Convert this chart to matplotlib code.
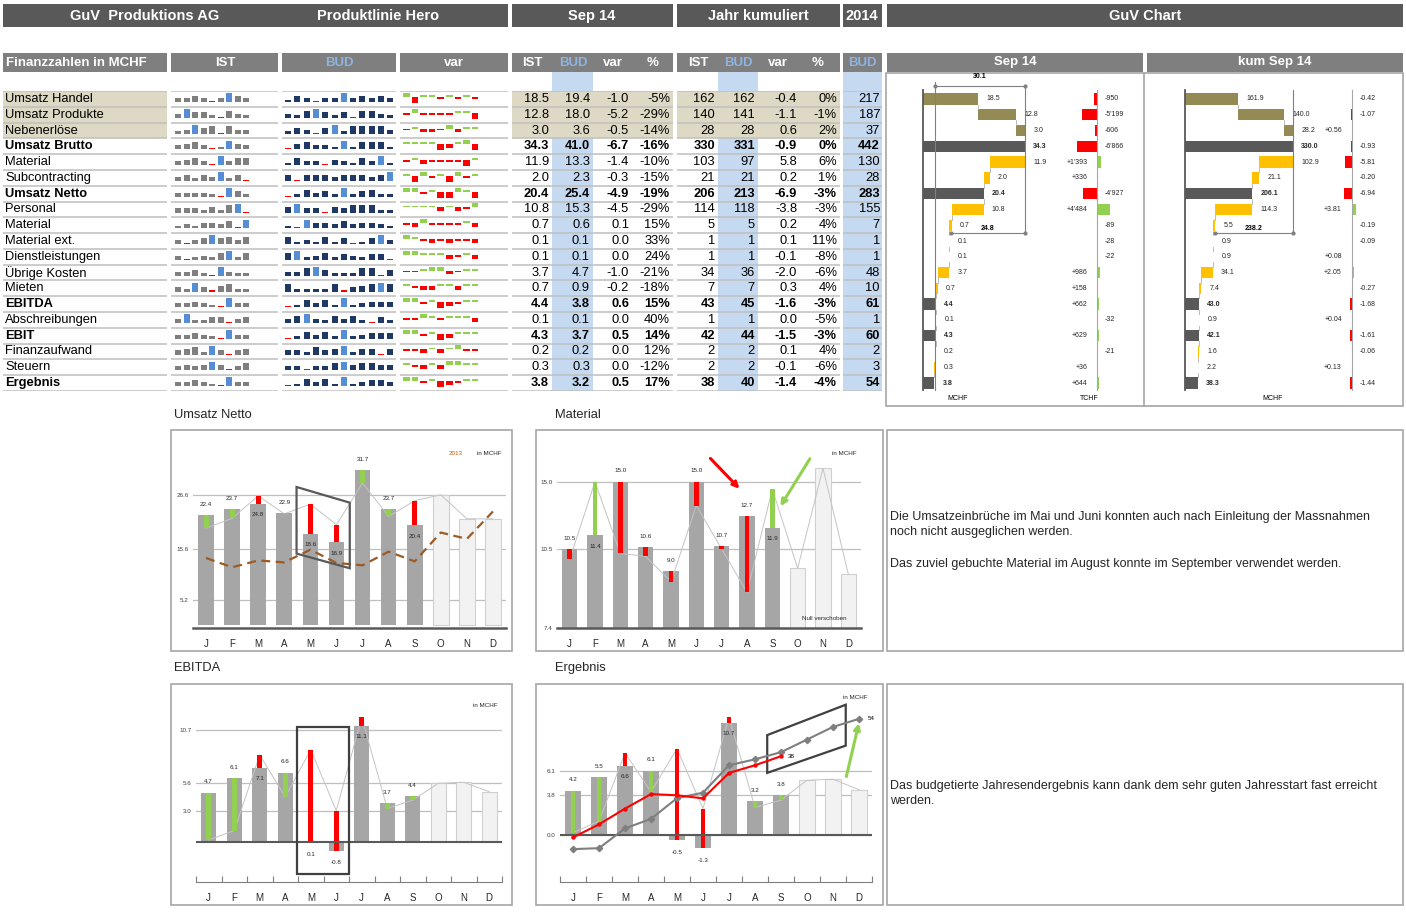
import numpy as np
import matplotlib
matplotlib.use("Agg")
from matplotlib import pyplot as plt
from matplotlib.patches import Rectangle, Polygon

plt.rcParams['font.family'] = ['Liberation Sans', 'DejaVu Sans']

W, H = 1406, 913

# ---------------- table data ----------------
rows = ["Umsatz Handel", "Umsatz Produkte", "Nebenerlöse", "Umsatz Brutto", "Material",
        "Subcontracting", "Umsatz Netto", "Personal", "Material", "Material ext.",
        "Dienstleistungen", "Übrige Kosten", "Mieten", "EBITDA", "Abschreibungen",
        "EBIT", "Finanzaufwand", "Steuern", "Ergebnis"]
bold_rows = ["Umsatz Brutto", "Umsatz Netto", "EBITDA", "EBIT", "Ergebnis"]
row_kind = ["a", "a", "a", "t", "c", "c", "t", "c", "c", "c", "c", "c", "c", "t", "c", "t", "c", "c", "t"]

sep_ist = [18.5, 12.8, 3.0, 34.3, 11.9, 2.0, 20.4, 10.8, 0.7, 0.1, 0.1, 3.7, 0.7, 4.4, 0.1, 4.3, 0.2, 0.3, 3.8]
sep_bud = [19.4, 18.0, 3.6, 41.0, 13.3, 2.3, 25.4, 15.3, 0.6, 0.1, 0.1, 4.7, 0.9, 3.8, 0.1, 3.7, 0.2, 0.3, 3.2]
sep_var = [-1.0, -5.2, -0.5, -6.7, -1.4, -0.3, -4.9, -4.5, 0.1, 0.0, 0.0, -1.0, -0.2, 0.6, 0.0, 0.5, 0.0, 0.0, 0.5]
sep_pct = ["-5%", "-29%", "-14%", "-16%", "-10%", "-15%", "-19%", "-29%", "15%", "33%", "24%",
           "-21%", "-18%", "15%", "40%", "14%", "12%", "-12%", "17%"]
kum_ist = [162, 140, 28, 330, 103, 21, 206, 114, 5, 1, 1, 34, 7, 43, 1, 42, 2, 2, 38]
kum_bud = [162, 141, 28, 331, 97, 21, 213, 118, 5, 1, 1, 36, 7, 45, 1, 44, 2, 2, 40]
kum_var = [-0.4, -1.1, 0.6, -0.9, 5.8, 0.2, -6.9, -3.8, 0.2, 0.1, -0.1, -2.0, 0.3, -1.6, 0.0, -1.5, 0.1, -0.1, -1.4]
kum_pct = ["0%", "-1%", "2%", "0%", "6%", "1%", "-3%", "-3%", "4%", "11%", "-8%",
           "-6%", "4%", "-3%", "-5%", "-3%", "4%", "-6%", "-4%"]
bud_2014 = [217, 187, 37, 442, 130, 28, 283, 155, 7, 1, 1, 48, 10, 61, 1, 60, 2, 3, 54]

# sparkline levels (IST Jan-Sep, BUD Jan-Dec, var Jan-Sep)
spark_ist = [
    [2, 2, 3, 2, 0, 2, 5, 3, 2], [2, 5, 3, 3, 1, 0, 4, 2, 1], [1, 2, 5, 3, 4, 0, 4, 2, 2],
    [2, 3, 4, 2, 0, 1, 5, 3, 2], [2, 3, 4, 2, 0, 5, 2, 4, 4], [2, 3, 1, 3, 2, 5, 1, 3, 0],
    [2, 2, 2, 2, 1, 0, 5, 3, 1], [2, 2, 2, 1, 3, 1, 4, 5, 0], [1, 2, 1, 3, 3, 2, 4, 0, 5],
    [2, 0, 2, 3, 5, 3, 4, 2, 4], [2, 0, 1, 2, 1, 4, 5, 1, 4], [2, 2, 3, 1, 0, 5, 2, 1, 1],
    [2, 1, 5, 2, 0, 3, 4, 1, 1], [2, 2, 3, 2, 1, 0, 5, 2, 2], [2, 5, 1, 1, 3, 3, 0, 2, 3],
    [2, 2, 3, 2, 1, 0, 5, 2, 2], [2, 3, 4, 1, 5, 2, 0, 2, 3], [2, 3, 2, 3, 5, 3, 0, 2, 4],
    [2, 2, 3, 2, 1, 0, 5, 2, 2]]
spark_bud = [
    [1, 3, 2, 0, 2, 2, 5, 2, 3, 2, 3, 2], [2, 1, 4, 5, 3, 1, 3, 0, 4, 4, 2, 1],
    [1, 3, 2, 0, 3, 5, 1, 4, 4, 4, 4, 2], [0, 3, 4, 2, 2, 1, 5, 1, 4, 4, 4, 1],
    [1, 4, 2, 2, 0, 3, 2, 1, 4, 2, 5, 1], [3, 0, 3, 3, 3, 2, 3, 3, 3, 2, 3, 5],
    [0, 1, 4, 2, 3, 1, 5, 1, 3, 4, 1, 1], [3, 5, 2, 2, 0, 3, 2, 4, 4, 4, 1, 1],
    [1, 0, 5, 3, 3, 2, 4, 2, 3, 3, 2, 1], [4, 1, 2, 1, 4, 1, 3, 0, 1, 3, 5, 2],
    [4, 5, 1, 2, 4, 1, 3, 2, 1, 3, 3, 0], [2, 2, 4, 5, 3, 1, 1, 1, 4, 4, 0, 3],
    [4, 1, 1, 1, 1, 4, 0, 2, 3, 4, 5, 4], [0, 1, 4, 2, 4, 1, 5, 1, 2, 3, 3, 3],
    [2, 4, 5, 2, 1, 4, 2, 4, 1, 0, 3, 1], [0, 1, 4, 2, 4, 1, 5, 1, 2, 3, 3, 3],
    [2, 2, 1, 4, 2, 3, 5, 1, 3, 3, 0, 3], [2, 2, 0, 2, 2, 4, 5, 3, 4, 4, 3, 3],
    [0, 1, 4, 2, 4, 1, 5, 1, 2, 3, 3, 2]]
spark_var = [
    [2, -3, 1, 1, -1, 1, -1, 1, -1], [-1, 2, -1, -1, -1, -1, 1, 1, -3], [-1, 1, -2, -2, -1, 2, -2, 1, 1],
    [1, 1, 1, 1, -3, -2, 1, 2, -3], [-1, 1, -2, -1, -1, -1, -1, -3, 1], [1, -3, 2, -1, 1, -3, 2, -1, 1],
    [2, 2, -1, 1, -3, -3, 2, 1, -3], [1, 1, 1, 1, -2, 1, -2, -1, 2], [-1, -2, 2, -1, -1, -1, -1, 1, -2],
    [2, 1, -1, -2, -1, -2, -1, -1, -2], [2, 2, 1, 1, 1, -2, -1, 1, -2], [-1, -1, 1, 2, 2, -2, -1, 1, 1],
    [1, -1, -2, -2, 1, 1, -2, 1, 1], [2, 2, -1, 1, -3, -2, -1, 1, 1], [-1, -1, 2, 1, -1, 1, 1, 1, -2],
    [2, 2, -1, 1, -3, -2, 1, 1, 1], [-1, -1, -2, 1, -2, 1, 2, -1, -1], [1, -1, -2, 1, -2, 2, 2, 1, 1],
    [2, 2, -1, 1, -3, -2, -1, 1, 1]]

# ---------------- GuV chart data ----------------
wf_sep = [18.5, 12.8, 3.0, 34.3, 11.9, 2.0, 20.4, 10.8, 0.7, 0.1, 0.1, 3.7, 0.7, 4.4, 0.1, 4.3, 0.2, 0.3, 3.8]
wf_sep_var = [-950, -5199, -606, -6866, 1393, 336, -4927, 4484, -89, -28, -22, 986, 158, 662, -32, 629, -21, 36, 644]
wf_sep_brackets = [30.1, 24.8]
wf_kum = [161.9, 140.0, 28.2, 330.0, 102.9, 21.1, 206.1, 114.3, 5.5, 0.9, 0.9, 34.1, 7.4, 43.0, 0.9, 42.1, 1.6, 2.2, 38.3]
wf_kum_var = [-0.42, -1.07, 0.56, -0.93, -5.81, -0.20, -6.94, 3.81, -0.19, -0.09, 0.08, 2.05, -0.27, -1.68, 0.04, -1.61, -0.06, 0.13, -1.44]
wf_kum_brackets = [238.2]

# ---------------- monthly charts ----------------
months = ["J", "F", "M", "A", "M", "J", "J", "A", "S", "O", "N", "D"]
netto_ist = [22.4, 23.7, 24.8, 22.9, 18.6, 16.9, 31.7, 23.7, 20.4]
netto_bud = [19.8, 21.8, 26.4, 22.7, 24.7, 20.5, 29.0, 22.2, 25.4, 26.6, 21.7, 21.7]
netto_2013 = [13.7, 11.8, 13.2, 12.8, 15.4, 12.7, 12.2, 15.0, 13.0, 18.9, 17.6, 23.2]
netto_ticks = [5.2, 15.6, 26.6]

mat_ist = [10.5, 11.4, 15.0, 10.6, 9.0, 15.0, 10.7, 12.7, 11.9]
mat_bud = [9.8, 15.0, 10.2, 10.0, 8.3, 13.4, 10.5, 7.6, 14.5, 9.2, 15.9, 8.8]
mat_ticks = [5.2, 10.5, 15.0]
mat_tick_labels = ["7.4", "10.5", "15.0"]

ebitda_ist = [4.7, 6.1, 7.1, 6.6, 0.1, -0.8, 11.1, 3.7, 4.4]
ebitda_bud = [0.2, 1.1, 8.3, 4.3, 8.8, 3.0, 11.9, 3.2, 4.0, 5.6, 5.7, 4.8]
ebitda_ticks = [3.0, 5.6, 10.7]

erg_ist = [4.2, 5.5, 6.6, 6.1, -0.5, -1.3, 10.7, 3.2, 3.8]
erg_bud = [0.2, 1.3, 7.8, 4.1, 8.2, 2.5, 11.2, 2.6, 3.3, 5.2, 5.3, 4.3]
erg_cum_ist = [4.2, 9.7, 16.3, 22.4, 21.9, 20.6, 31.3, 34.5, 38.3]
erg_cum_bud = [-0.7, -0.3, 8.0, 12.0, 20.7, 23.0, 34.5, 37.0, 40.0, 45.3, 50.6, 54.0]
erg_ticks = [0.0, 3.8, 6.1]

comment_1 = ["Die Umsatzeinbrüche im Mai und Juni konnten auch nach Einleitung der Massnahmen",
             "noch nicht ausgeglichen werden.", "",
             "Das zuviel gebuchte Material im August konnte im September verwendet werden."]
comment_2 = ["Das budgetierte Jahresendergebnis kann dank dem sehr guten Jahresstart fast erreicht",
             "werden."]

# ---------------- colours ----------------
HEAD1 = '#595959'
HEAD2 = '#7f7f7f'
BLUE_BG = '#c5d9f1'
BEIGE = '#ddd9c4'
LINE = '#bfbfbf'
RED = '#ff0000'
GREEN = '#92d050'
HILITE = '#558ed5'
wf_colors = {"a": '#948a54', "t": '#595959', "c": '#ffc000'}

ROW0, PITCH = 99, 15.78

fig = plt.figure(figsize=(W / 100, H / 100), dpi=100)


def add_ax(x0, y0, x1, y1, off=True):
    ax = fig.add_axes([x0 / W, 1 - y1 / H, (x1 - x0) / W, (y1 - y0) / H])
    if off:
        ax.set_axis_off()
    return ax


def row_px(r):
    return ROW0 + r * PITCH


# background: headers, bands, boxes (pixel coordinates)
bg = add_ax(0, 0, W, H)
bg.set_xlim(0, W)
bg.set_ylim(H, 0)


def head(x0, x1, y0, y1, color):
    bg.add_patch(Rectangle((x0, y0), x1 - x0, y1 - y0, color=color, lw=0))


for x0, x1 in [(3, 508), (512, 673), (677, 840), (843, 882), (887, 1403)]:
    head(x0, x1, 4, 27, HEAD1)
for txt, xc in [("GuV  Produktions AG", 145), ("Produktlinie Hero", 378), ("Sep 14", 592),
                ("Jahr kumuliert", 758), ("2014", 862), ("GuV Chart", 1145)]:
    bg.text(xc, 16, txt, color='white', fontsize=10.5, fontweight='bold', ha='center', va='center')

for x0, x1 in [(3, 167), (171, 278), (282, 396), (400, 508), (512, 673), (677, 840), (843, 882),
               (887, 1143), (1147, 1403)]:
    head(x0, x1, 53, 72, HEAD2)
hdr2 = [("IST", 225, 'white'), ("BUD", 339, '#8db4e2'), ("var", 454, 'white'),
        ("IST", 532, 'white'), ("BUD", 573, '#8db4e2'), ("var", 613, 'white'), ("%", 653, 'white'),
        ("IST", 698, 'white'), ("BUD", 738, '#8db4e2'), ("var", 778, 'white'), ("%", 818, 'white'),
        ("BUD", 862, '#8db4e2'), ("Sep 14", 1015, 'white'), ("kum Sep 14", 1275, 'white')]
bg.text(6, 62.5, "Finanzzahlen in MCHF", color='white', fontsize=9.5, fontweight='bold', va='center')
for txt, xc, col in hdr2:
    bg.text(xc, 62.5, txt, color=col, fontsize=9.5, fontweight='bold', ha='center', va='center')

# blue BUD columns
for x0, x1 in [(552, 593), (718, 758), (843, 882)]:
    bg.add_patch(Rectangle((x0, 72), x1 - x0, row_px(18.5) - 72, color=BLUE_BG, lw=0))
# beige rows for the first three lines
for x0, x1 in [(3, 167), (512, 673), (677, 840)]:
    bg.add_patch(Rectangle((x0, row_px(-0.5)), x1 - x0, 3 * PITCH, color=BEIGE, lw=0))

# boxes
box_style = dict(fill=False, ec='#a6a6a6', lw=1.2)
for x0, y0, x1, y1 in [(886, 73, 1403, 406), (171, 430, 512, 651), (536, 430, 883, 651),
                       (887, 430, 1403, 651), (171, 684, 512, 905), (536, 684, 883, 905),
                       (887, 684, 1403, 905)]:
    bg.add_patch(Rectangle((x0, y0), x1 - x0, y1 - y0, **box_style))
bg.plot([1144, 1144], [73, 406], color='#a6a6a6', lw=1.2)

# chart titles
for txt, x, y in [("Umsatz Netto", 174, 415), ("Material", 555, 415), ("EBITDA", 174, 668), ("Ergebnis", 555, 668)]:
    bg.text(x, y, txt, fontsize=9.3, color='#262626', va='center')

# comments
for k, line in enumerate(comment_1):
    bg.text(890, 517 + k * 15.5, line, fontsize=9.0, color='#262626', va='center')
for k, line in enumerate(comment_2):
    bg.text(890, 786 + k * 15.5, line, fontsize=9.0, color='#262626', va='center')

# ---------------- table ----------------
tab = add_ax(0, row_px(-0.5), 890, row_px(18.5))
tab.set_xlim(0, 890)
tab.set_ylim(18.5, -0.5)

n = len(rows)
for x0, x1 in [(3, 167), (171, 278), (282, 396), (400, 508), (512, 673), (677, 840), (843, 882)]:
    tab.hlines(np.arange(n + 1) - 0.5, x0, x1, color=LINE, lw=1.1)

num_cols = [(549, sep_ist, "{:.1f}"), (590, sep_bud, "{:.1f}"), (629, sep_var, "{:.1f}"),
            (670, sep_pct, "{}"), (715, kum_ist, "{:d}"), (755, kum_bud, "{:d}"),
            (797, kum_var, "{:.1f}"), (837, kum_pct, "{}"), (880, bud_2014, "{:d}")]

for i, name in enumerate(rows):
    fw = 'bold' if name in bold_rows else 'normal'
    tab.text(5, i, name, fontsize=9.3, fontweight=fw, va='center', color='#000000')
    for xr, col, fmt in num_cols:
        tab.text(xr, i, fmt.format(col[i]), fontsize=9.3, fontweight=fw, ha='right', va='center')


def spark_bars(levels, x0, step, base_color, i):
    lv = np.array(levels)
    cols = [base_color] * len(lv)
    cols[int(lv.argmax())] = HILITE
    cols[int(lv.argmin())] = RED
    xs = x0 + step * np.arange(len(lv))
    tab.bar(xs, -(0.07 + 0.098 * lv), width=6, bottom=i + 0.2, color=cols, align='edge', lw=0)


def spark_var_bars(levels, x0, step, i):
    lv = np.array(levels)
    xs = x0 + step * np.arange(len(lv))
    h = 0.12 + 0.13 * (np.abs(lv) - 1)
    heights = np.where(lv > 0, -h, h)
    cols = [GREEN if v > 0 else RED for v in lv]
    tab.bar(xs, heights, width=6.5, bottom=i - 0.13, color=cols, align='edge', lw=0)


for i in range(n):
    spark_bars(spark_ist[i], 175, 8.5, '#7f7f7f', i)
    spark_bars(spark_bud[i], 285, 9.3, '#1f3864', i)
    spark_var_bars(spark_var[i], 403, 8.6, i)

# ---------------- GuV chart (waterfalls) ----------------
WF_TOP, WF_BOT = -1.5, 19.2


def wf_axes(x0, x1, base_px, px_per_unit):
    ax = add_ax(x0, row_px(WF_TOP), x1, row_px(WF_BOT))
    ax.set_ylim(WF_BOT, WF_TOP)
    ax.set_xlim((x0 - base_px) / px_per_unit, (x1 - base_px) / px_per_unit)
    return ax


def waterfall(ax, vals, fmt, unit_x):
    level = 0.0
    for i, (v, k) in enumerate(zip(vals, row_kind)):
        if k == "a":
            left = level
            level += v
        elif k == "t":
            left = 0.0
            level = v
        else:
            left = level - v
            level -= v
        ax.barh(i, v, left=left, height=0.72, color=wf_colors[k], lw=0)
        ax.annotate(fmt.format(v), (left + v, i), xytext=(6, 0), textcoords='offset points',
                    va='center', fontsize=5, fontweight='bold' if k == "t" else 'normal', color='#262626')
        if i < len(vals) - 1:
            ax.plot([level, level], [i + 0.36, i + 0.64], color='#b0b0b0', lw=0.6)
    ax.plot([0, 0], [-0.6, 18.45], color='#595959', lw=1.3)
    ax.text(unit_x, 0.0, "MCHF", transform=ax.transAxes, fontsize=5, ha='center', va='bottom')


def bracket(ax, start, end, y, label, label_dy):
    ax.plot([start, end], [y, y], color='#808080', lw=0.8, marker='o', ms=2)
    ax.text((start + end) / 2, y + label_dy, label, fontsize=5, fontweight='bold', ha='center', va='center')


def variance(ax, vals, fmt, lab_right, lab_left):
    cols = [GREEN if v > 0 else RED for v in vals]
    ax.barh(range(len(vals)), vals, height=0.72, color=cols, lw=0)
    ax.plot([0, 0], [-0.6, 18.45], color='#a6a6a6', lw=0.8)
    for i, v in enumerate(vals):
        if v < 0:
            ax.text(lab_right, i, fmt(v), fontsize=5, ha='left', va='center', color='#262626')
        else:
            ax.text(lab_left, i, fmt(v), fontsize=5, ha='right', va='center', color='#262626')


def fmt_tchf(v):
    return ("{:+,d}".format(v) if v > 0 else "{:,d}".format(v)).replace(",", "'")


def fmt_mchf(v):
    return "{:+.2f}".format(v)


wf1 = wf_axes(895, 1075, 923, 2.97)
waterfall(wf1, wf_sep, "{:.1f}", 0.35)
brutto_sep = wf_sep[row_kind.index("t")]
ref_line = brutto_sep - wf_sep_brackets[0]
wf1.plot([ref_line, ref_line], [-1.1, 18.45], color='#808080', lw=0.8)
bracket(wf1, ref_line, brutto_sep, -0.85, "{:.1f}".format(wf_sep_brackets[0]), -0.55)
bracket(wf1, brutto_sep - wf_sep_brackets[1], brutto_sep, 8.5, "{:.1f}".format(wf_sep_brackets[1]), -0.3)
wf1.plot([brutto_sep, brutto_sep], [-0.85, 8.5], color='#808080', lw=0.8)

wf1v = wf_axes(1075, 1142, 1097, 1 / 343)
variance(wf1v, wf_sep_var, fmt_tchf, 2700, -3200)
wf1v.text(0.22, 0.0, "TCHF", transform=wf1v.transAxes, fontsize=5, ha='center', va='bottom')

wf2 = wf_axes(1150, 1320, 1185, 0.327)
waterfall(wf2, wf_kum, "{:.1f}", 0.72)
brutto_kum = wf_kum[row_kind.index("t")]
bracket(wf2, brutto_kum - wf_kum_brackets[0], brutto_kum, 8.5, "{:.1f}".format(wf_kum_brackets[0]), -0.3)
wf2.plot([brutto_kum, brutto_kum], [-0.6, 8.5], color='#808080', lw=0.8)

wf2v = wf_axes(1320, 1400, 1352, 1.13)
variance(wf2v, wf_kum_var, fmt_mchf, 7, -9)


# ---------------- monthly charts ----------------
def month_chart(rect, ylim, ticks, tick_labels, ist, bud, higher_good, zero_axis, var_w=0.19):
    ax = add_ax(*rect, off=False)
    ax.set_xlim(-0.5, 11.5)
    ax.set_ylim(*ylim)
    ax.patch.set_visible(False)
    for s in ax.spines.values():
        s.set_visible(False)
    ax.set_yticks(ticks, tick_labels)
    ax.tick_params(axis='y', length=0, labelsize=4.5, pad=3, labelcolor='#404040')
    ax.set_xticks(range(12), months)
    ax.tick_params(axis='x', which='major', length=0, labelsize=7, pad=8, labelcolor='#262626')
    ax.yaxis.grid(True, color='#bfbfbf', lw=0.9)
    ax.set_axisbelow(True)
    x = np.arange(12)
    k = len(ist)
    ax.bar(x[:k], ist, width=0.6, color='#a6a6a6', lw=0, zorder=2)
    ax.bar(x[k:], bud[k:], width=0.6, color='#f2f2f2', edgecolor='#d0d0d0', lw=0.8, zorder=2)
    ax.plot(x, bud, color='#c4c4c4', lw=0.7, zorder=3)
    for i in range(k):
        good = (ist[i] >= bud[i]) == higher_good
        ax.bar(i, bud[i] - ist[i], bottom=ist[i], width=var_w, color=GREEN if good else RED, lw=0, zorder=4)
        if ist[i] < 1:
            y, dy, va = min(ist[i], 0), -7, 'top'
        elif bud[i] > ist[i]:
            y, dy, va = ist[i], -6, 'top'
        else:
            y, dy, va = ist[i], 6, 'bottom'
        ax.annotate("{:.1f}".format(ist[i]), (i, y), xytext=(0, dy), textcoords='offset points',
                    ha='center', va=va, fontsize=4.5, color='#262626', zorder=6)
    if zero_axis:
        ax.axhline(0, color='#595959', lw=1.5, zorder=5)
        ax.spines['bottom'].set_visible(True)
        ax.spines['bottom'].set_color('#7f7f7f')
        ax.spines['bottom'].set_linewidth(0.8)
        ax.set_xticks(np.arange(-0.5, 12, 1), minor=True)
        ax.tick_params(axis='x', which='minor', length=4, direction='in', color='#7f7f7f', width=0.8)
    else:
        ax.axhline(ylim[0], color='#595959', lw=1.8, zorder=5, clip_on=False)
    return ax


# Umsatz Netto
ax1 = month_chart((193, 440, 506, 628), (-0.6, 37.8), netto_ticks, ["{:.1f}".format(t) for t in netto_ticks],
                  netto_ist, netto_bud, True, False)
ax1.plot(range(12), netto_2013, color='#9c5b25', lw=1.6, ls=(0, (4, 2.5)), zorder=4)
ax1.text(0.86, 0.93, "2013", transform=ax1.transAxes, fontsize=4.5, color='#c55a11', ha='right', va='center')
ax1.text(0.985, 0.93, "in MCHF", transform=ax1.transAxes, fontsize=4.5, color='#262626', ha='right', va='center')
ax1.add_patch(Polygon([(3.47, 28.2), (5.51, 25.0), (5.51, 11.6), (3.47, 14.6)], closed=True,
                      fill=False, ec='#595959', lw=1.6, zorder=7))

# Material
ax2 = month_chart((557, 440, 861, 628), (5.2, 17.8), mat_ticks, mat_tick_labels, mat_ist, mat_bud, False, False)
ax2.text(0.985, 0.93, "in MCHF", transform=ax2.transAxes, fontsize=4.5, color='#262626', ha='right', va='center')
ax2.text(0.88, 0.05, "Null verschoben", transform=ax2.transAxes, fontsize=4.5, color='#262626', ha='center', va='center')
ax2.annotate("", xy=(6.78, 14.4), xytext=(5.48, 16.7),
             arrowprops=dict(arrowstyle='-|>', color=RED, lw=2.2, mutation_scale=9), zorder=8)
ax2.annotate("", xy=(8.26, 13.2), xytext=(9.54, 16.7),
             arrowprops=dict(arrowstyle='-|>', color=GREEN, lw=2.2, mutation_scale=9), zorder=8)

# EBITDA
ax3 = month_chart((196, 692, 502, 882), (-3.8, 14.3), ebitda_ticks, ["{:.1f}".format(t) for t in ebitda_ticks],
                  ebitda_ist, ebitda_bud, True, True)
ax3.text(0.985, 0.93, "in MCHF", transform=ax3.transAxes, fontsize=4.5, color='#262626', ha='right', va='center')
ax3.add_patch(Rectangle((3.48, -3.0), 2.02, 14.0, fill=False, ec='#404040', lw=1.6, zorder=7))

# Ergebnis
ax4 = month_chart((560, 690, 872, 882), (-4.5, 13.8), erg_ticks, ["{:.1f}".format(t) for t in erg_ticks],
                  erg_ist, erg_bud, True, True)
ax4.text(0.985, 0.96, "in MCHF", transform=ax4.transAxes, fontsize=4.5, color='#262626', ha='right', va='center')
ax4b = ax4.twinx()
ax4b.set_ylim(-14.5, 66.1)
ax4b.set_axis_off()
ax4b.plot(range(12), erg_cum_bud, color='#7f7f7f', lw=1.5, marker='D', ms=3.2, zorder=6)
ax4b.plot(range(len(erg_cum_ist)), erg_cum_ist, color=RED, lw=1.5, marker='o', ms=2.2, zorder=7)
ax4b.annotate("{:.0f}".format(erg_cum_ist[-1]), (len(erg_cum_ist) - 1, erg_cum_ist[-1]), xytext=(5, 0),
              textcoords='offset points', fontsize=4.5, va='center')
ax4b.annotate("{:.0f}".format(erg_cum_bud[-1]), (11, erg_cum_bud[-1]), xytext=(6, 0),
              textcoords='offset points', fontsize=4.5, va='center')
ax4.add_patch(Polygon([(7.47, 9.5), (10.49, 12.4), (10.49, 8.5), (7.47, 5.9)], closed=True,
                      fill=False, ec='#404040', lw=1.6, zorder=8))
ax4.annotate("", xy=(11.02, 10.9), xytext=(10.49, 5.3),
             arrowprops=dict(arrowstyle='-|>', color=GREEN, lw=2.2, mutation_scale=9), zorder=8)

fig.savefig("out.png", dpi=100)
